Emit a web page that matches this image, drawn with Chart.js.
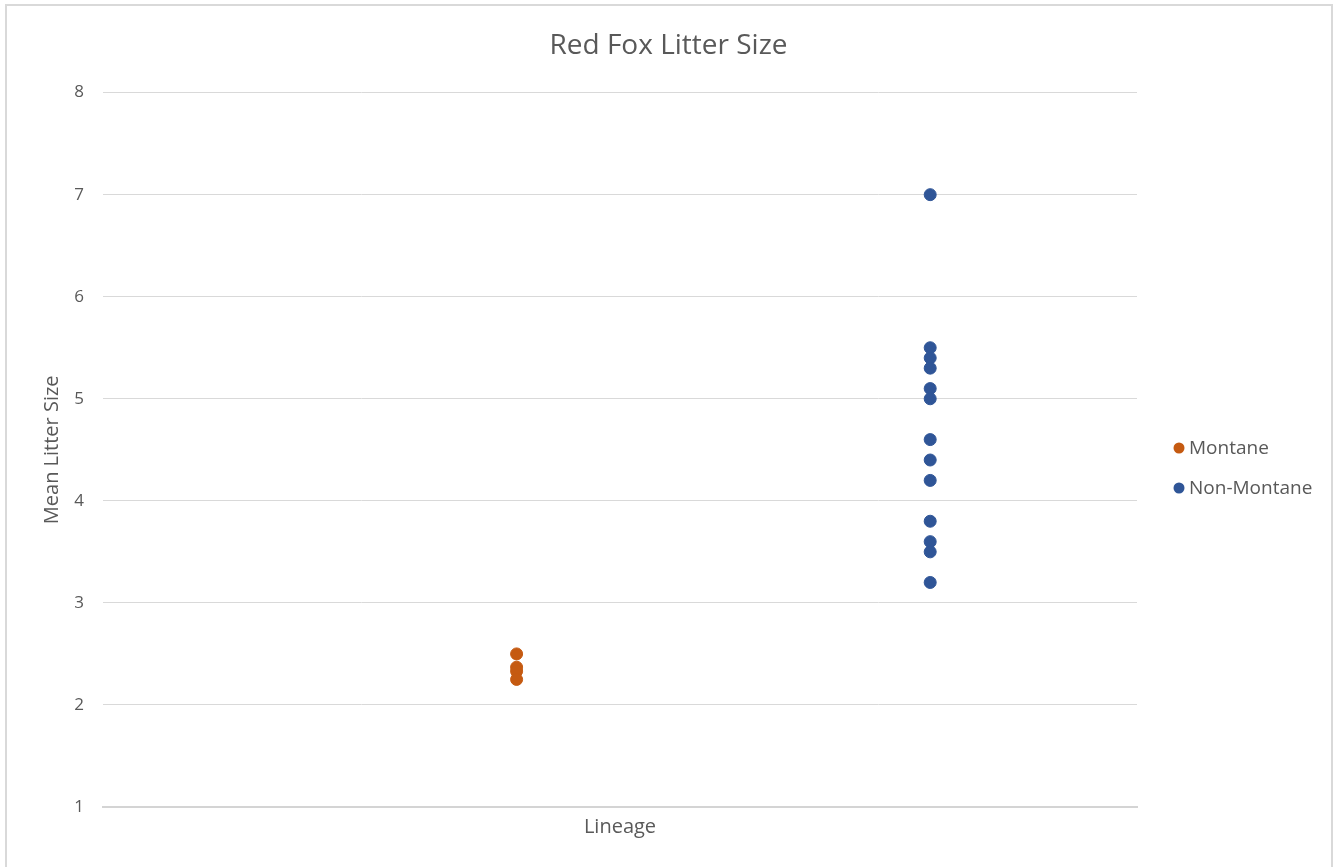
<!DOCTYPE html>
<html>
<head>
<meta charset="utf-8">
<title>Red Fox Litter Size</title>
<script src="https://cdn.jsdelivr.net/npm/chart.js@4/dist/chart.umd.min.js"></script>
<style>
  html, body { margin: 0; padding: 0; background: #ffffff; }
  #frame {
    position: absolute; left: 5px; top: 4px; width: 1328px; height: 900px;
    border: 2px solid #d9d9d9; box-sizing: border-box;
  }
  #wrap { position: absolute; left: 0; top: 0; width: 1337px; height: 867px; }
</style>
</head>
<body>
<div id="frame"></div>
<div id="wrap"><canvas id="chart" width="1337" height="867"></canvas></div>
<script>
// Lineage positions on the (hidden) category axis
const lineagePositions = { montane: 1, nonMontane: 2 };

// Mean litter sizes per population
const montaneLitter = [2.5, 2.37, 2.33, 2.25];
const nonMontaneLitter = [7.0, 5.5, 5.4, 5.3, 5.1, 5.0, 4.6, 4.4, 4.2, 3.8, 3.6, 3.5, 3.2];

const seriesNames = ['Montane', 'Non-Montane'];
const seriesColors = ['#C55A11', '#2F5597'];

const yTicks = [1, 2, 3, 4, 5, 6, 7, 8];

const FONT = "'Open Sans', 'Liberation Sans', sans-serif";
const TEXT = '#595959';

const toPoints = (xVal, ys) => ys.map(y => ({ x: xVal, y }));

// Legend drawn in the reserved strip right of the plot, Excel style
const sideLegend = {
  id: 'sideLegend',
  afterDraw(chart) {
    const ctx = chart.ctx;
    ctx.save();
    ctx.font = '19px ' + FONT;
    ctx.textBaseline = 'middle';
    ctx.textAlign = 'left';
    chart.data.datasets.forEach((ds, i) => {
      const y = 448 + i * 40;
      ctx.beginPath();
      ctx.arc(1179, y, 5.5, 0, Math.PI * 2);
      ctx.fillStyle = ds.backgroundColor;
      ctx.fill();
      ctx.fillStyle = TEXT;
      ctx.fillText(ds.label, 1189, y + 1);
    });
    ctx.restore();
  }
};

new Chart(document.getElementById('chart'), {
  type: 'scatter',
  data: {
    datasets: [
      {
        label: seriesNames[0],
        data: toPoints(lineagePositions.montane, montaneLitter),
        backgroundColor: seriesColors[0],
        borderColor: seriesColors[0],
        pointRadius: 6,
        borderWidth: 1
      },
      {
        label: seriesNames[1],
        data: toPoints(lineagePositions.nonMontane, nonMontaneLitter),
        backgroundColor: seriesColors[1],
        borderColor: seriesColors[1],
        pointRadius: 6,
        borderWidth: 1
      }
    ]
  },
  options: {
    responsive: false,
    animation: false,
    devicePixelRatio: 1,
    layout: { padding: 0 },
    plugins: {
      legend: { display: false },
      tooltip: { enabled: false },
      title: {
        display: true,
        text: 'Red Fox Litter Size',
        color: TEXT,
        font: { family: FONT, size: 28, weight: 'normal' },
        padding: { top: 29, bottom: 30 }
      }
    },
    scales: {
      x: {
        type: 'linear',
        min: 0,
        max: 2.5,
        grid: { display: false },
        border: { display: true, color: '#d4d4d4', width: 2 },
        ticks: { display: false },
        title: {
          display: true,
          text: 'Lineage',
          color: TEXT,
          font: { family: FONT, size: 20 },
          padding: { top: 0, bottom: 28 }
        },
        afterFit(scale) { scale.height = 60; }
      },
      y: {
        min: 1,
        max: 8,
        afterBuildTicks(scale) { scale.ticks = yTicks.map(v => ({ value: v })); },
        grid: { color: '#d9d9d9', lineWidth: 1, drawTicks: false },
        border: { display: false },
        ticks: {
          color: TEXT,
          font: { family: FONT, size: 17 },
          padding: 19
        },
        title: {
          display: true,
          text: 'Mean Litter Size',
          color: TEXT,
          font: { family: FONT, size: 20 },
          padding: { top: 40, bottom: 0 }
        },
        afterFit(scale) { scale.width = 103; }
      },
      // empty right-hand axis that reserves the legend strip
      yLegendSpace: {
        position: 'right',
        min: 1,
        max: 8,
        grid: { display: false },
        border: { display: false },
        ticks: { display: false },
        afterFit(scale) { scale.width = 200; }
      }
    }
  },
  plugins: [sideLegend]
});
</script>
</body>
</html>
